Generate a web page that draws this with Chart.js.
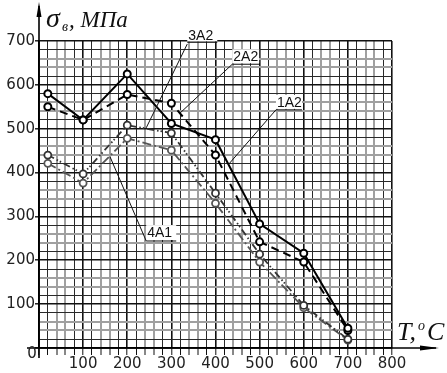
<!DOCTYPE html>
<html>
<head>
<meta charset="utf-8">
<script src="https://cdn.jsdelivr.net/npm/chart.js@4/dist/chart.umd.min.js"></script>
<style>
  body { margin: 0; background: #fff; }
  #wrap { width: 447px; height: 373px; }
</style>
</head>
<body>
<div id="wrap"><canvas id="myChart" width="447" height="373"></canvas></div>
<script>
// temperatures, °C
var temps = [20, 100, 200, 300, 400, 500, 600, 700];
// ultimate strength, MPa
var s1A2 = [580, 520, 625, 512, 475, 283, 216, 45];
var s2A2 = [550, 520, 578, 558, 440, 242, 196, 40];
var s3A2 = [440, 397, 508, 490, 353, 214, 97, 20];
var s4A1 = [421, 376, 478, 451, 330, 196, 92, 18];

// callout labels: text, box (x1..x2 at y), text line ty, leader end point
var callouts = [
  { text: '3A2', x1: 336, x2: 404, y: 697, ty: 711, ey: 693, ex2: 243, ey2: 502 },
  { text: '2A2', x1: 438, x2: 499, y: 647, ty: 663, ey: 647, ex2: 320, ey2: 536 },
  { text: '1A2', x1: 537, x2: 596, y: 543, ty: 559, ey: 543, ex2: 429, ey2: 418 },
  { text: '4A1', x1: 243, x2: 311, y: 244, ty: 262, ey: 244, ex2: 161, ey2: 436 }
];

function pts(arr) {
  return arr.map(function (v, i) { return { x: temps[i], y: v }; });
}

function gridColor(ctx) {
  var v = ctx.tick.value;
  if (v % 100 === 0) return '#111';
  if (v % 100 === 40 || v % 100 === 60) return '#a0a0a0';
  return '#2a2a2a';
}
function gridWidth(ctx) {
  var v = ctx.tick.value;
  if (v % 100 === 0) return 1.6;
  if (v % 100 === 40 || v % 100 === 60) return 2;
  return 1;
}

var decor = {
  id: 'decor',
  afterDraw: function (chart) {
    var c = chart.ctx, xs = chart.scales.x, ys = chart.scales.y;
    var x0 = xs.getPixelForValue(0), y0 = ys.getPixelForValue(0);
    c.save();
    c.strokeStyle = '#000';
    c.fillStyle = '#000';
    c.lineWidth = 1.6;
    // axes lines with arrows
    c.beginPath();
    c.moveTo(x0, 358); c.lineTo(x0, 6);
    c.moveTo(27, y0); c.lineTo(436, y0);
    c.stroke();
    c.beginPath();
    c.moveTo(x0, 2); c.lineTo(x0 - 2.5, 17); c.lineTo(x0 + 2.5, 17); c.closePath();
    c.fill();
    c.beginPath();
    c.moveTo(439, y0); c.lineTo(420, y0 - 2.5); c.lineTo(420, y0 + 2.5); c.closePath();
    c.fill();

    // zero label
    c.font = '15px "DejaVu Sans"';
    c.fillStyle = '#222';
    c.textAlign = 'center';
    c.textBaseline = 'middle';
    c.fillText('0', 32, 354);

    // callouts
    c.font = '14px "Liberation Sans", Arial';
    c.textAlign = 'left';
    c.textBaseline = 'middle';
    c.lineWidth = 1;
    callouts.forEach(function (o) {
      var px1 = xs.getPixelForValue(o.x1), px2 = xs.getPixelForValue(o.x2);
      var py = ys.getPixelForValue(o.y), pty = ys.getPixelForValue(o.ty);
      c.fillStyle = '#fff';
      c.fillRect(px1, pty - 8, px2 - px1, py - pty + 7);
      c.fillStyle = '#111';
      c.fillText(o.text, px1 + 1, pty);
      c.strokeStyle = '#111';
      c.beginPath();
      c.moveTo(px1, py); c.lineTo(px2, py);
      c.moveTo(px1, ys.getPixelForValue(o.ey));
      c.lineTo(xs.getPixelForValue(o.ex2), ys.getPixelForValue(o.ey2));
      c.stroke();
    });

    // axis titles
    c.fillStyle = '#111';
    c.textAlign = 'left';
    c.textBaseline = 'alphabetic';
    c.font = 'italic 28px "Liberation Serif"';
    c.fillText('\u03c3', 46, 27);
    c.font = 'italic 14px "Liberation Serif"';
    c.fillText('\u0432', 62, 31);
    c.font = 'italic 23px "Liberation Serif"';
    c.fillText(', \u041c\u041f\u0430', 69, 27);

    c.font = 'italic 26px "Liberation Serif"';
    c.fillText('T,', 397, 340);
    c.font = 'italic 14px "Liberation Serif"';
    c.fillText('o', 418, 330);
    c.font = 'italic 26px "Liberation Serif"';
    c.fillText('C', 427, 340);
    c.restore();
  }
};

var ctx = document.getElementById('myChart');
var myChart = new Chart(ctx, {
  type: 'line',
  data: {
    datasets: [{
      label: '1A2',
      data: pts(s1A2),
      borderColor: '#000',
      borderWidth: 2
    }, {
      label: '2A2',
      data: pts(s2A2),
      borderColor: '#000',
      borderWidth: 2,
      borderDash: [8, 5]
    }, {
      label: '3A2',
      data: pts(s3A2),
      borderColor: '#333',
      borderWidth: 1.8,
      borderDash: [7, 3, 1.5, 2, 1.5, 3]
    }, {
      label: '4A1',
      data: pts(s4A1),
      borderColor: '#555',
      borderWidth: 1.8,
      borderDash: [9, 3, 2, 3]
    }]
  },
  options: {
    responsive: false,
    animation: false,
    events: [],
    layout: { padding: { top: 41, right: 55, left: 0, bottom: 0 } },
    elements: {
      line: { tension: 0, fill: false },
      point: {
        radius: 3.5,
        borderWidth: 1.6,
        backgroundColor: '#fff',
        borderColor: '#000'
      }
    },
    plugins: {
      legend: { display: false },
      tooltip: { enabled: false }
    },
    scales: {
      x: {
        type: 'linear',
        min: 0,
        max: 800,
        afterFit: function (s) { s.height = 25; },
        border: { display: true, color: '#000', width: 1.6 },
        grid: {
          color: gridColor,
          lineWidth: gridWidth,
          tickColor: '#111',
          tickWidth: 1,
          tickLength: 7
        },
        ticks: {
          stepSize: 20,
          autoSkip: false,
          maxRotation: 0,
          padding: 0,
          color: '#222',
          font: { family: 'DejaVu Sans', size: 15 },
          callback: function (v) { return (v % 100 === 0 && v > 0) ? String(v) : ''; }
        }
      },
      y: {
        min: 0,
        max: 700,
        afterFit: function (s) { s.width = 39; },
        border: { display: true, color: '#000', width: 1.6 },
        grid: {
          color: gridColor,
          lineWidth: gridWidth,
          tickColor: function (c) { return c.tick.value % 100 === 0 ? '#111' : 'rgba(0,0,0,0)'; },
          tickWidth: 1.4,
          tickLength: 4
        },
        ticks: {
          stepSize: 20,
          autoSkip: false,
          padding: 0,
          color: '#222',
          font: { family: 'DejaVu Sans', size: 15 },
          callback: function (v) { return (v % 100 === 0 && v > 0) ? String(v) : ''; }
        }
      }
    }
  },
  plugins: [decor]
});
</script>
</body>
</html>
